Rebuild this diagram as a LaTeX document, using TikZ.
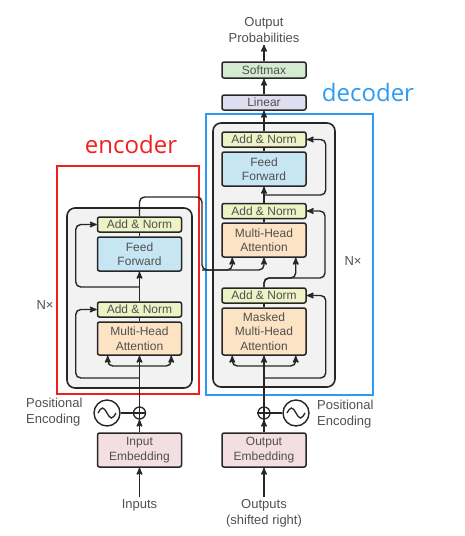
\documentclass[tikz,border=0pt]{standalone}
\usepackage{fontspec}
\setmainfont{Liberation Sans}
\newfontfamily\tagfont{Open Sans}
\usetikzlibrary{arrows}
\definecolor{txtgray}{HTML}{505050}
\definecolor{anfill}{HTML}{EEF3C6}
\definecolor{fffill}{HTML}{C6E6F4}
\definecolor{attfill}{HTML}{FCE3C4}
\definecolor{embfill}{HTML}{F3DFE2}
\definecolor{smfill}{HTML}{D4EBD2}
\definecolor{linfill}{HTML}{DEDEF0}
\definecolor{stackfill}{HTML}{F2F2F2}
\definecolor{encred}{HTML}{F21E1E}
\definecolor{decblue}{HTML}{2E9BF2}
\tikzset{
  block/.style = {rectangle, rounded corners=2pt, draw=black!85, line width=1.5pt,
    text=txtgray, font=\fontsize{12}{14.5}\selectfont, align=center,
    inner sep=0pt, minimum width=84pt},% sous-couche
  addnorm/.style = {block, fill=anfill, minimum height=15pt},% add & norm
  ffn/.style = {block, fill=fffill, minimum height=34pt},% feed forward
  attn/.style = {block, fill=attfill, minimum height=34pt},% attention
  embed/.style = {block, fill=embfill, minimum height=34pt},% embedding
  stack/.style = {rectangle, rounded corners=8pt, draw=black!85,
    line width=1.6pt, fill=stackfill, inner sep=0pt},% pile de N couches
  lbl/.style = {text=txtgray, font=\fontsize{13}{16}\selectfont, align=center,
    inner sep=2pt},% texte exterieur
  sine/.style = {circle, draw=black!85, line width=1.4pt, minimum size=26pt,
    inner sep=0pt},% positional encoding
  plus/.style = {circle, draw=black!85, line width=1.3pt, minimum size=12pt,
    inner sep=0pt},% addition
  wire/.style = {line width=1.4pt, black!85, rounded corners=5pt}% connexion
}

\begin{document}
\begin{tikzpicture}[x=1pt,y=-1pt,>=stealth']
	\useasboundingbox (0,0) rectangle (464,536);

	% cadres encoder / decoder
	\node [draw=encred, line width=1.6pt, minimum width=142pt, minimum height=228pt,
		inner sep=0pt] (encframe) at (128,280) {};
	\node [draw=decblue, line width=1.6pt, minimum width=167pt, minimum height=281pt,
		inner sep=0pt] (decframe) at (289.5,254.5) {};
	\node [text=encred, font=\tagfont\fontsize{24}{28}\selectfont] (enctag) at (131,144) {encoder};
	\node [text=decblue, font=\tagfont\fontsize{24}{28}\selectfont] (dectag) at (368,92) {decoder};

	% piles
	\node [stack, minimum width=125pt, minimum height=180pt] (encstack) at (129.5,298) {};
	\node [stack, minimum width=122pt, minimum height=264pt] (decstack) at (274,255) {};
	\node [lbl] (encN) at (45,305) {N×};
	\node [lbl] (decN) at (353,261) {N×};

	% encoder
	\node [addnorm] (encAN2) at (139.5,224.5) {Add \& Norm};
	\node [ffn] (encFF) at (139.5,254) {Feed\\Forward};
	\node [addnorm] (encAN1) at (139.5,309.5) {Add \& Norm};
	\node [attn, minimum height=33pt] (encMHA) at (139.5,338.5) {Multi-Head\\Attention};
	\node [embed] (inEmb) at (139.5,450) {Input\\Embedding};
	\node [plus] (encPlus) at (139.5,413) {};
	\node [sine] (encPE) at (107,413) {};
	\node [lbl, anchor=west, align=left] (encPEtxt) at (24,412) {Positional\\Encoding};
	\node [lbl] (inputs) at (139.5,505) {Inputs};

	% decoder
	\node [addnorm] (decAN3) at (264,139.5) {Add \& Norm};
	\node [ffn] (decFF) at (264,169) {Feed\\Forward};
	\node [addnorm] (decAN2) at (264,211) {Add \& Norm};
	\node [attn] (decMHA) at (264,240) {Multi-Head\\Attention};
	\node [addnorm] (decAN1) at (264,295.5) {Add \& Norm};
	\node [attn, minimum height=47pt] (decMMHA) at (264,331.5) {Masked\\Multi-Head\\Attention};
	\node [embed] (outEmb) at (264,450) {Output\\Embedding};
	\node [plus] (decPlus) at (264,413) {};
	\node [sine] (decPE) at (296,413) {};
	\node [lbl, anchor=west, align=left] (decPEtxt) at (315,414) {Positional\\Encoding};
	\node [lbl] (outputs) at (264,513) {Outputs\\(shifted right)};
	\node [block, fill=linfill, minimum height=15pt] (linear) at (264,102.5) {Linear};
	\node [block, fill=smfill, minimum height=16pt] (softmax) at (264,70) {Softmax};
	\node [lbl] (outprob) at (264,30) {Output\\Probabilities};

	% points de branchement
	\coordinate (encsplit) at (139.5,366);
	\coordinate (encres1) at (139.5,378);
	\coordinate (encres2) at (139.5,287);
	\coordinate (bend1) at (202,197);
	\coordinate (bend2) at (202,270);
	\coordinate (decsplit) at (264,366);
	\coordinate (decres1) at (264,378);
	\coordinate (decres2) at (325,278);
	\coordinate (decres3) at (264,195);
	\coordinate (qin) at ([xshift=-11pt]decMHA.south east);

	% sinus et plus
	\foreach \pe in {encPE, decPE}
		\draw [line width=1.3pt, black!85] ([xshift=-9pt]\pe.center) sin ++(4.5,-5) cos ++(4.5,5)
			sin ++(4.5,5) cos ++(4.5,-5);
	\foreach \pl in {encPlus, decPlus}
		\draw [line width=1.2pt, black!85] (\pl.north) -- (\pl.south) (\pl.west) -- (\pl.east);
	\draw [wire] (encPE) -- (encPlus);
	\draw [wire] (decPE) -- (decPlus);

	% encoder, connexions
	\draw [wire, ->] (inputs) -- (inEmb);
	\draw [wire, ->] (inEmb) -- (encPlus);
	\draw [wire, ->] (encPlus) -- (encMHA);
	\draw [wire, ->] (encsplit) -| ([xshift=11pt]encMHA.south west);
	\draw [wire, ->] (encsplit) -| ([xshift=-11pt]encMHA.south east);
	\draw [wire, ->] (encres1) -| ([xshift=-21pt]encAN1.west) -- (encAN1.west);
	\draw [wire] (encMHA) -- (encAN1);
	\draw [wire, ->] (encAN1) -- (encFF);
	\draw [wire, ->] (encres2) -| ([xshift=-21pt]encAN2.west) -- (encAN2.west);
	\draw [wire] (encFF) -- (encAN2);
	\draw [wire, ->] (encAN2.north) |- (bend1) -- (bend2) -| (decMHA.south);
	\draw [wire, ->] (bend2) -| ([xshift=11pt]decMHA.south west);

	% decoder, connexions
	\draw [wire, ->] (outputs) -- (outEmb);
	\draw [wire, ->] (outEmb) -- (decPlus);
	\draw [wire, ->] (decPlus) -- (decMMHA);
	\draw [wire, ->] (decsplit) -| ([xshift=11pt]decMMHA.south west);
	\draw [wire, ->] (decsplit) -| ([xshift=-11pt]decMMHA.south east);
	\draw [wire, ->] (decres1) -| ([xshift=19pt]decAN1.east) -- (decAN1.east);
	\draw [wire] (decMMHA) -- (decAN1);
	\draw [wire, ->] (decAN1.north) |- (decres2) |- (decAN2.east);
	\draw [wire, ->] (decAN1.north) |- (qin |- decres2) -- (qin);
	\draw [wire] (decMHA) -- (decAN2);
	\draw [wire, ->] (decAN2) -- (decFF);
	\draw [wire, ->] (decres3) -| ([xshift=19pt]decAN3.east) -- (decAN3.east);
	\draw [wire] (decFF) -- (decAN3);
	\draw [wire, ->] (decAN3) -- (linear);
	\draw [wire, ->] (linear) -- (softmax);
	\draw [wire, ->] (softmax) -- (outprob);

\end{tikzpicture}
\end{document}
